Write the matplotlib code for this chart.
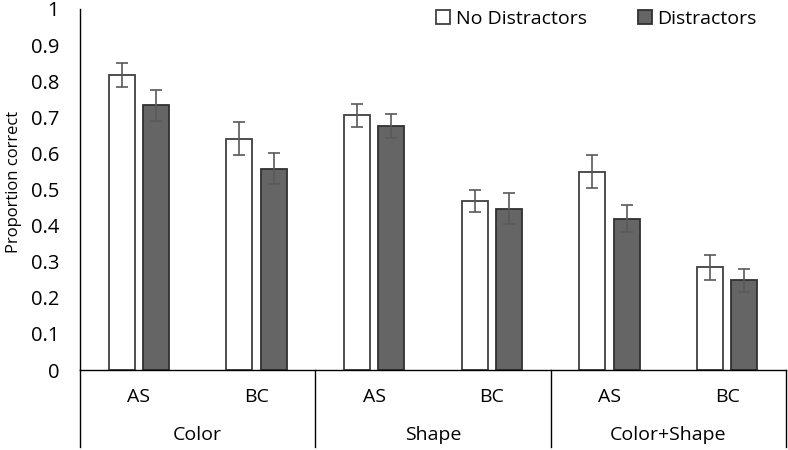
import numpy as np
import matplotlib
matplotlib.use("Agg")
import matplotlib.pyplot as plt
import matplotlib.transforms as mtransforms

plt.rcParams["font.family"] = ["Open Sans", "DejaVu Sans"]

groups = ["Color", "Shape", "Color+Shape"]
conds = ["AS", "BC", "AS", "BC", "AS", "BC"]
no_dist = [0.818, 0.641, 0.705, 0.469, 0.549, 0.284]
no_dist_err = [0.033, 0.045, 0.032, 0.030, 0.046, 0.035]
dist = [0.733, 0.558, 0.675, 0.447, 0.419, 0.248]
dist_err = [0.042, 0.042, 0.033, 0.043, 0.037, 0.033]

fig = plt.figure(figsize=(7.88, 4.5), dpi=100)
ax = fig.add_axes([80 / 788, 80 / 450, 706 / 788, 361 / 450])

x = np.arange(len(conds))
w = 0.22
off = 0.145
err_kw = dict(ecolor="#595959", elinewidth=1.2, capsize=4.5, capthick=1.2)
b1 = ax.bar(x - off, no_dist, w, yerr=no_dist_err, color="white",
            edgecolor="#404040", linewidth=1.3, error_kw=err_kw, label="No Distractors")
b2 = ax.bar(x + off, dist, w, yerr=dist_err, color="#656565",
            edgecolor="#303030", linewidth=1.3, error_kw=err_kw, label="Distractors")

ax.set_xlim(-0.5, 5.5)
ax.set_ylim(0, 1)
ax.set_yticks(np.arange(0, 1.01, 0.1))
ax.set_yticklabels(["0", "0.1", "0.2", "0.3", "0.4", "0.5", "0.6", "0.7", "0.8", "0.9", "1"])
ax.tick_params(axis="y", length=0, pad=15, labelsize=14.5)
ax.set_xticks(x)
ax.set_xticklabels(conds)
ax.tick_params(axis="x", length=0, pad=13, labelsize=14)

for s in ["top", "right"]:
    ax.spines[s].set_visible(False)
for s in ["left", "bottom"]:
    ax.spines[s].set_color("black")
    ax.spines[s].set_linewidth(1.0)

# group separators under the axis
trans = mtransforms.blended_transform_factory(ax.transData, ax.transAxes)
for xs in [-0.5, 1.5, 3.5, 5.5]:
    ax.plot([xs, xs], [0, -0.213], color="black", lw=1.0, transform=trans, clip_on=False)
for i, g in enumerate(groups):
    ax.text(2 * i + 0.5, -0.18, g, transform=trans, ha="center", va="center", fontsize=14)

ax.set_ylabel("Proportion correct", fontsize=12)
ax.yaxis.set_label_coords(-58 / 706, 0.52)

fig.legend(handles=[b1, b2], loc="center", bbox_to_anchor=(0.757, 0.958),
           ncol=2, frameon=False, fontsize=14, handlelength=0.72, handleheight=0.7,
           handletextpad=0.3, columnspacing=2.6)

fig.savefig("out.png", dpi=100)
